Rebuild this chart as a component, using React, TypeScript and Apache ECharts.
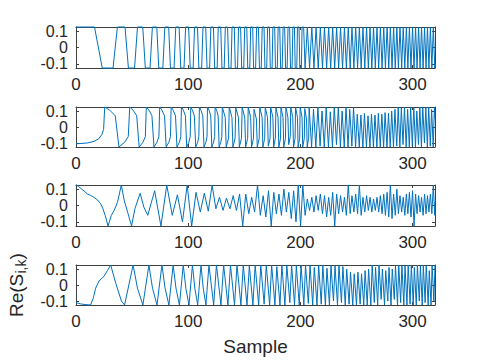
import React, { useEffect, useRef } from 'react';
import * as echarts from 'echarts';

const xTicks = [0, 100, 200, 300];
const yTicks = [-0.1, 0, 0.1];
const xMin = 0;
const xMax = 320;
const yMin = -0.125;
const yMax = 0.125;
const xLabel = 'Sample';
const yLabelMain = 'Re(S';
const yLabelSub = 'i,k';
const yLabelEnd = ')';

// Sample index, value (vertices)
const sig1: number[][] = [
  [0,.125],[16.5,.125],[23.4,-.125],[33,-.125],[36.9,.125],[43.7,.125],[46.7,-.125],[52.2,-.125],[54.8,.125],[59.5,.125],[61.8,-.125],[66,-.125],[68.1,.125],[72,.125],[73.8,-.125],[77.4,-.125],[79.2,.125],[82.6,.125],[84.2,-.125],[87.4,-.125],[88.9,.125],[91.9,.125],[93.4,-.125],[96.3,-.125],[97.7,.125],[100.4,.125],[101.8,-.125],[104.4,-.125],[105.7,.125],[108.3,.125],[109.5,-.125],[112,-.125],[113.2,.125],[115.6,.125],[116.8,-.125],[119.1,-.125],[120.2,.125],[122.5,.125],[123.6,-.125],[125.8,-.125],[126.8,.125],[129,.125],
  [130.1,-.125],[132.1,-.125],[133.1,.125],[135.1,.125],[136.2,-.125],[138.2,-.125],[139.1,.125],[141.1,.125],[142,-.125],[144,-.125],[144.9,.125],[146.7,.125],[147.7,-.125],[149.5,-.125],[150.4,.125],[152.2,.125],[153.1,-.125],[154.9,-.125],[155.7,.125],[157.5,.125],[158.3,-.125],[160.1,-.125],[161,.125],[162.6,.125],[163.5,-.125],[165.1,-.125],[166,.125],[167.6,.125],[168.4,-.125],[170,-.125],[170.8,.125],[172.4,.125],[173.2,-.125],[174.8,-.125],[175.5,.125],[177.1,.125],[177.8,-.125],[179.4,-.125],[180.2,.125],[181.6,.125],[182.4,-.125],[183.8,-.125],[184.6,.125],[186,.125],[186.8,-.125],[188.2,-.125],[189,.125],[190.4,.125],[191.2,-.125],[192.6,-.125],[193.3,.125],[194.7,.125],[195.4,-.125],[196.8,-.125],[197.4,.125],[198.8,.125],[199.5,-.125],[200.9,-.125],[201.5,.125],[202.9,.125],
  [204.2,-.125],[206.2,.125],[208.2,-.125],[210.2,.125],[212.1,-.125],[214,.125],[215.9,-.125],[217.8,.125],[219.7,-.125],[221.5,.125],[223.4,-.125],[225.2,.125],[227,-.125],[228.8,.125],[230.6,-.125],[232.3,.125],[234.1,-.125],[235.8,.125],[237.6,-.125],[239.3,.125],[241,-.125],[242.7,.125],[244.4,-.125],[246,.125],[247.7,-.125],[249.3,.125],[251,-.125],[252.6,.125],[254.2,-.125],[255.8,.125],[257.4,-.125],[259,.125],[260.6,-.125],[262.1,.125],[263.7,-.125],[265.2,.125],[266.8,-.125],[268.3,.125],[269.8,-.125],[271.3,.125],[272.8,-.125],[274.3,.125],[275.8,-.125],[277.3,.125],[278.8,-.125],[280.2,.125],[281.7,-.125],[283.1,.125],[284.6,-.125],[286,.125],[287.4,-.125],[288.8,.125],[290.3,-.125],[291.7,.125],[293.1,-.125],[294.5,.125],[295.8,-.125],[297.2,.125],[298.6,-.125],[300,.125],[301.3,-.125],[302.7,.125],[304,-.125],[305.4,.125],[306.7,-.125],[308,.125],[309.4,-.125],[310.7,.125],[312,-.125],[313.3,.125],[314.6,-.125],[315.9,.125],[317.2,-.125],[318.5,.125],[319.8,-.125],[320,-.1]
];

const sig2: number[][] = [
  [0,-.105],[10,-.1],[16,-.09],[20,-.075],[23,-.048],[24.6,-.015],
  [25.6,.125],[30.1,.105],[35,.07],[38.3,-.125],[43.4,-.095],[46.6,-.06],
  [47.9,.125],[50.9,.105],[54.1,.07],[56.3,-.125],[59.7,-.095],[61.8,-.06],
  [62.7,.125],[65.1,.105],[67.7,.07],[69.5,-.125],[72.2,-.095],[73.9,-.06],
  [74.6,.125],[76.6,.105],[78.9,.07],[80.4,-.125],[82.8,-.095],[84.2,-.06],
  [84.8,.125],[86.6,.105],[88.7,.07],[90,-.125],[92.2,-.095],[93.4,-.06],
  [94,.125],[95.7,.105],[97.5,.07],[98.7,-.125],[100.6,-.095],[101.8,-.06],
  [102.3,.125],[103.8,.105],[105.5,.07],[106.7,-.125],[108.5,-.095],[109.5,-.06],
  [110,.125],[111.4,.105],[113,.07],[114.1,-.125],[115.8,-.095],[116.8,-.06],
  [117.2,.125],[118.6,.105],[120.1,.07],[121.1,-.125],[122.6,-.095],[123.6,-.06],
  [124,.125],[125.3,.105],[126.7,.07],[127.6,-.125],[129.1,-.095],[130,-.06],
  [130.4,.125],[133,.06],[133.9,-.125],[136,-.07],
  [136.6,.125],[139,.06],[139.9,-.125],[141.8,-.07],
  [142.4,.12],[144.8,.06],[145.6,-.125],[147.5,-.07],
  [148.1,.125],[150.4,.06],[151.2,-.125],[153,-.07],
  [153.5,.125],[155.7,.06],[156.5,-.125],[158.2,-.07],
  [158.7,.11],[160.8,.05],[161.6,-.125],[163.3,-.07],
  [163.8,.125],[165.9,.06],[166.6,-.125],[168.2,-.07],
  [168.7,.125],[170.7,.06],[171.4,-.12],[173,-.07],
  [173.5,.125],[175.5,.06],[176.2,-.125],[177.7,-.07],
  [178.2,.12],[180.1,.06],[180.8,-.125],[182.3,-.07],
  [182.7,.125],[184.5,.06],[185.2,-.125],[186.7,-.07],
  [187.1,.125],[188.9,.06],[189.6,-.11],[191,-.06],
  [191.4,.125],[193.2,.06],[193.9,-.125],[195.3,-.07],
  [195.7,.125],[197.4,.06],[198,-.125],[199.4,-.07],
  [199.8,.125],[201.5,.06],[202.1,-.125],[203.5,-.07],
  [203.9,.115],[205.5,.05],[206.1,-.125],[207.4,-.07],
  [207.8,.125],[210,-.125],[211.7,.11],[213.8,-.125],[215.6,.125],[217.6,-.12],[219.3,.1],[221.3,-.125],[223,.125],[225,-.125],[226.7,.095],[228.6,-.125],[230.2,.125],[232.2,-.11],[233.8,.12],[235.7,-.125],[237.2,.1],[239.1,-.125],[240.7,.125],[242.5,-.125],[244,.11],[245.9,-.12],[247.4,.125],[249.2,-.125],[250.7,.08],[252.5,-.125],[253.9,.075],[255.7,-.125],[257.1,.085],[258.9,-.125],[260.3,.07],[262,-.125],[263.4,.08],[265.1,-.125],[266.5,.075],[268.2,-.125],[269.5,.085],[271.2,-.125],[272.6,.08],[274.2,-.125],[275.5,.09],[277.2,-.125],[278.5,.085],[280.1,-.125],[281.4,.1],[283,-.125],[284.3,.11],[285.9,-.12],[287.2,.125],[288.7,-.125],[290,.12],[291.5,-.11],[292.8,.125],[294.3,-.125],[295.6,.11],[297.1,-.125],[298.3,.125],[299.8,-.12],[301.1,.125],[302.6,-.125],[303.8,.1],[305.3,-.11],[306.5,.125],[307.9,-.125],[309.1,.125],[310.6,-.1],[311.8,.12],[313.2,-.125],[314.4,.125],[315.8,-.12],[317,.11],[318.4,-.125],[319.5,.125],[320,.05]
];

const sig3: number[][] = [
  [0,.125],[2,.118],[5,.1],[8,.085],[10,.07],[13,.062],[16,.05],[19,.035],[22,.01],[24,-.02],[26,-.06],
  [28.6,-.125],[31.5,-.06],[34,-.03],[37,.02],[40.4,.125],[43,.03],[46,-.04],[49.5,-.125],[52.5,-.02],[57.2,.075],[60.5,-.01],[64,-.06],[66.8,.01],[70.1,.09],[75.7,-.125],[80.9,.125],[85.8,-.06],[90.4,.065],[94.9,-.1],[99.1,.125],[103.1,-.125],[107,.08],[110.8,-.04],[114.4,.075],[117.9,-.035],[121.3,.125],[124.7,-.02],[127.9,.05],[131.1,-.03],[134.1,.045],[137.2,-.02],[140.1,.06],[143,-.03],[145.8,.07],[148.6,-.125],[151.3,.07],[154,-.05],[156.6,.05],[159.2,-.04],[161.8,.125],[164.3,-.06],[166.8,.06],[169.2,-.07],[171.6,.09],[174,-.125],[176.3,.08],[178.6,-.05],[180.9,.07],[183.1,-.06],[185.3,.1],[187.5,-.04],[189.7,.08],[191.9,-.08],[194,.09],[196.1,-.1],[198.1,.125],[200.2,-.125],[202.2,.125],[204.2,-.06],[206.2,.04],[208.2,-.03],[210.2,.05],[212.1,-.04],[214,.06],[215.9,-.03],[217.8,.07],[219.7,-.05],[221.5,.06],[223.4,-.07],[225.2,.05],[227,-.06],[228.8,.08],[230.6,-.125],[232.3,.07],[234.1,-.05],[235.8,.06],[237.6,-.04],[239.3,.05],[241,-.06],[242.7,.125],[244.4,-.05],[246,.06],[247.7,-.04],[249.3,.07],[251,-.05],[252.6,.125],[254.2,-.06],[255.8,.05],[257.4,-.04],[259,.06],[260.6,-.03],[262.1,.05],[263.7,-.04],[265.2,.04],[266.8,-.03],[268.3,.05],[269.8,-.04],[271.3,.06],[272.8,-.05],[274.3,.07],[275.8,-.06],[277.3,.08],[278.8,-.07],[280.2,.125],[281.7,-.08],[283.1,.07],[284.6,-.06],[286,.1],[287.4,-.05],[288.8,.06],[290.3,-.04],[291.7,.05],[293.1,-.06],[294.5,.07],[295.8,-.05],[297.2,.08],[298.6,-.07],[300,.09],[301.3,-.125],[302.7,.07],[304,-.05],[305.4,.06],[306.7,-.04],[308,.05],[309.4,-.06],[310.7,.07],[312,-.05],[313.3,.06],[314.6,-.04],[315.9,.07],[317.2,-.05],[318.5,.125],[319.8,-.06],[320,.02]
];

const sig4: number[][] = [
  [0,-.11],[4,-.118],[8,-.122],[13,-.125],[15.5,-.08],[17.5,-.02],[20.5,.025],[25,.055],[28,.09],
  [30.9,.125],[35.5,.01],[40.5,-.1],[43.3,-.125],
  [50.9,.125],[54.8,-.02],[59.6,-.125],
  [65,.125],[68.2,-.02],[72.2,-.125],
  [76.6,.125],[79.4,-.02],[82.8,-.125],
  [86.6,.125],[89.1,-.02],[92.2,-.125],
  [95.6,.125],[97.9,-.02],[100.7,-.125],
  [103.8,.125],[105.9,-.02],[108.5,-.125],
  [111.4,.125],[113.4,-.02],[115.8,-.125],
  [118.5,.125],[122.7,-.125],[125.2,.125],[129.2,-.125],[131.6,.125],[135.4,-.125],[137.7,.125],[141.3,-.125],[143.5,.125],[147,-.125],[149.1,.125],[152.4,-.125],[154.5,.12],[157.7,-.125],[159.7,.125],[162.8,-.125],[164.7,.125],[167.7,-.12],[169.6,.125],[172.6,-.125],[174.4,.125],[177.3,-.125],[179,.115],[181.8,-.125],[183.5,.125],[186.2,-.125],[187.9,.125],[190.6,-.11],[192.2,.125],[194.8,-.125],[196.4,.12],[199,-.125],[200.6,.125],[203.1,-.125],[204.6,.125],[207.1,-.115],[208.6,.125],[211,-.125],[212.4,.11],[214.8,-.125],[216.3,.125],[218.6,-.12],[220,.125],[222.3,-.125],[223.7,.105],[225.9,-.125],[227.3,.125],[229.5,-.1],[230.9,.12],[233.1,-.125],[234.4,.125],[236.6,-.11],[237.9,.115],[240,-.125],[241.3,.1],[243.4,-.12],[244.7,.08],[246.7,-.125],[248,.07],[250,-.125],[251.3,.08],[253.3,-.12],[254.5,.07],[256.5,-.125],[257.7,.09],[259.6,-.125],[260.8,.1],[262.8,-.125],[264,.125],[265.9,-.11],[267,.11],[268.9,-.125],[270.1,.125],[272,-.09],[273.1,.1],[275,-.125],[276.1,.09],[277.9,-.1],[279,.11],[280.8,-.125],[281.9,.1],[283.7,-.09],[284.8,.12],[286.6,-.125],[287.7,.125],[289.4,-.11],[290.5,.125],[292.2,-.125],[293.3,.12],[295,-.125],[296.1,.125],[297.8,-.12],[298.9,.125],[300.6,-.125],[301.6,.11],[303.3,-.125],[304.3,.125],[306,-.1],[307,.12],[308.6,-.125],[309.6,.125],[311.2,-.11],[312.2,.125],[313.9,-.125],[314.9,.09],[316.5,-.125],[317.4,.125],[319,-.1],[320,.125]
];

const signals = [sig1, sig2, sig3, sig4];

export default function App() {
  const ref = useRef<HTMLDivElement>(null);
  useEffect(() => {
    if (!ref.current) return;
    const chart = echarts.init(ref.current, null, { renderer: 'svg' });
    const font = "'Liberation Sans', Arial, Helvetica, sans-serif";
    const textColor = '#262626';
    const axisColor = '#404040';
    const tops = [27, 107, 185, 265];
    const heights = [41, 40, 41, 40];
    const grids = tops.map((t, i) => ({ left: 76, top: t, width: 359, height: heights[i] }));
    const xAxes: any[] = [];
    const yAxes: any[] = [];
    for (let side = 0; side < 2; side++) {
      for (let i = 0; i < 4; i++) {
        const main = side === 0;
        xAxes.push({
          gridIndex: i, type: 'value', min: xMin, max: xMax,
          position: main ? 'bottom' : 'top',
          axisLine: { show: true, onZero: false, lineStyle: { color: axisColor, width: 1 } },
          axisTick: { show: true, inside: true, length: 3, customValues: xTicks, lineStyle: { color: axisColor, width: 1 } },
          axisLabel: { show: main, customValues: xTicks, color: textColor, fontSize: 17, fontFamily: font, margin: 8 },
          splitLine: { show: false },
          ...(main && i === 3 ? {
            name: xLabel, nameLocation: 'middle', nameGap: 32,
            nameTextStyle: { fontSize: 19, fontFamily: font, color: textColor },
          } : {}),
        });
        yAxes.push({
          gridIndex: i, type: 'value', min: yMin, max: yMax,
          position: main ? 'left' : 'right',
          axisLine: { show: true, onZero: false, lineStyle: { color: axisColor, width: 1 } },
          axisTick: { show: true, inside: true, length: 3, customValues: yTicks, lineStyle: { color: axisColor, width: 1 } },
          axisLabel: { show: main, customValues: yTicks, color: textColor, fontSize: 16, fontFamily: font, margin: 8 },
          splitLine: { show: false },
        });
      }
    }
    const series = signals.map((d, i) => ({
      type: 'line', xAxisIndex: i, yAxisIndex: i, data: d,
      showSymbol: false, symbol: 'none', clip: false, silent: true,
      lineStyle: { color: '#0072BD', width: 1 },
    }));
    const txt = (text: string, x: number, y: number, size: number) => ({
      type: 'text', x, y, silent: true,
      style: {
        text, fill: textColor, fontSize: size, fontFamily: font,
        align: 'left', verticalAlign: 'middle', textAlign: 'left', textVerticalAlign: 'middle',
      },
    });
    chart.setOption({
      animation: false,
      backgroundColor: '#ffffff',
      grid: grids,
      xAxis: xAxes,
      yAxis: yAxes,
      series,
      graphic: [{
        type: 'group', x: 16, y: 285, rotation: Math.PI / 2,
        children: [
          txt(yLabelMain, -32, 0, 19),
          txt(yLabelSub, 11.5, 5, 14),
          txt(yLabelEnd, 25.5, 0, 19),
        ],
      }],
    });
    return () => chart.dispose();
  }, []);
  return <div ref={ref} style={{ position: 'fixed', left: 0, top: 0, width: 481, height: 361 }} />;
}
